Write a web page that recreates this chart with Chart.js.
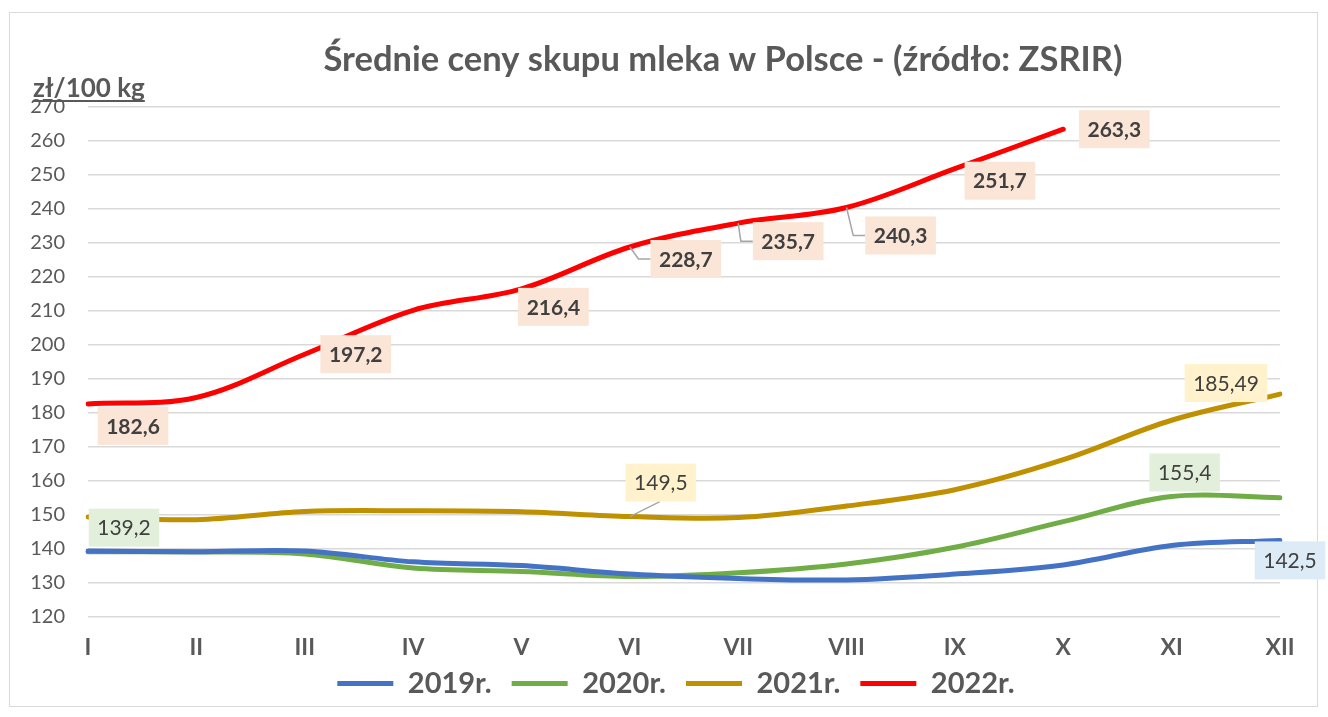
<!DOCTYPE html>
<html>
<head>
<meta charset="utf-8">
<script src="https://cdn.jsdelivr.net/npm/chart.js@4.4.1/dist/chart.umd.min.js"></script>
<style>
body { margin: 0; background: #fff; }
#wrap { width: 1328px; height: 717px; position: relative; }
</style>
</head>
<body>
<div id="wrap"><canvas id="mycanvas"></canvas></div>
<script>
var months = ['I', 'II', 'III', 'IV', 'V', 'VI', 'VII', 'VIII', 'IX', 'X', 'XI', 'XII'];
var years = ['2019r.', '2020r.', '2021r.', '2022r.'];
var y2019 = [139.4, 139.2, 139.4, 136.2, 135.1, 132.6, 131.3, 130.9, 132.6, 135.3, 141.0, 142.5];
var y2020 = [139.2, 139.1, 138.5, 134.4, 133.4, 131.9, 133.0, 135.6, 140.5, 148.0, 155.4, 155.0];
var y2021 = [149.4, 148.6, 151.0, 151.2, 150.9, 149.5, 149.2, 152.6, 157.4, 166.2, 177.8, 185.49];
var y2022 = [182.6, 184.5, 197.2, 210.1, 216.4, 228.7, 235.7, 240.3, 251.7, 263.3, null, null];
var yTicks = [120, 130, 140, 150, 160, 170, 180, 190, 200, 210, 220, 230, 240, 250, 260, 270];

var colors = ['#4472C4', '#70AD47', '#BF9000', '#FF0000'];
var textGrey = '#595959';

// which points get a value box, and where the box sits relative to the point
var labelSpecs = [
	{ ds: 3, i: 0, dx: 45, dy: 22, bold: true, bg: '#FBE5D6' },
	{ ds: 3, i: 2, dx: 51, dy: 0, bold: true, bg: '#FBE5D6' },
	{ ds: 3, i: 4, dx: 32, dy: 18, bold: true, bg: '#FBE5D6' },
	{ ds: 3, i: 5, dx: 56, dy: 12, bold: true, bg: '#FBE5D6', leader: 'elbow' },
	{ ds: 3, i: 6, dx: 50, dy: 18, bold: true, bg: '#FBE5D6', leader: 'elbow' },
	{ ds: 3, i: 7, dx: 54, dy: 28, bold: true, bg: '#FBE5D6', leader: 'elbow' },
	{ ds: 3, i: 8, dx: 45, dy: 12, bold: true, bg: '#FBE5D6' },
	{ ds: 3, i: 9, dx: 51, dy: 0, bold: true, bg: '#FBE5D6' },
	{ ds: 1, i: 0, dx: 36, dy: -24, bold: false, bg: '#E2EFDA' },
	{ ds: 1, i: 10, dx: 13, dy: -24, bold: false, bg: '#E2EFDA' },
	{ ds: 2, i: 5, dx: 31, dy: -34, bold: false, bg: '#FFF2CC', leader: 'bottom' },
	{ ds: 2, i: 11, dx: -54, dy: -11, bold: false, bg: '#FFF2CC' },
	{ ds: 0, i: 11, dx: 10, dy: 20, bold: false, bg: '#DDEBF7' }
];

var valueLabels = {
	id: 'valueLabels',
	afterDatasetsDraw: function(chart) {
		var ctx = chart.ctx;
		ctx.save();
		labelSpecs.forEach(function(s) {
			var pt = chart.getDatasetMeta(s.ds).data[s.i];
			var val = chart.data.datasets[s.ds].data[s.i];
			var txt = String(val).replace('.', ',');
			ctx.font = (s.bold ? 'bold ' : '') + '21px Lato';
			var w = ctx.measureText(txt).width + 17;
			var h = 38;
			var cx = pt.x + s.dx, cy = pt.y + s.dy;
			var left = cx - w / 2, top = cy - h / 2;
			if (s.leader) {
				ctx.strokeStyle = '#A6A6A6';
				ctx.lineWidth = 1.5;
				ctx.beginPath();
				ctx.moveTo(pt.x, pt.y);
				if (s.leader == 'elbow') {
					ctx.lineTo(left - 12, cy);
					ctx.lineTo(left, cy);
				} else {
					ctx.lineTo(pt.x + 30, top + h);
				}
				ctx.stroke();
			}
			ctx.fillStyle = s.bg;
			ctx.fillRect(left, top, w, h);
			ctx.fillStyle = '#404040';
			ctx.textAlign = 'center';
			ctx.textBaseline = 'middle';
			ctx.fillText(txt, cx, cy + 1);
		});
		ctx.restore();
	}
};

var frame = {
	id: 'frame',
	afterLayout: function(chart) {
		// Excel puts title and legend slightly right of centre; legend sits a bit higher
		chart.titleBlock.left += 68;
		chart.titleBlock.right += 68;
		chart.legend.left += 21;
		chart.legend.right += 21;
		chart.legend.top -= 9;
		chart.legend.bottom -= 9;
	},
	beforeDraw: function(chart) {
		var ctx = chart.ctx;
		ctx.save();
		ctx.fillStyle = '#fff';
		ctx.fillRect(0, 0, chart.width, chart.height);
		ctx.strokeStyle = '#D9D9D9';
		ctx.lineWidth = 1;
		ctx.strokeRect(9.5, 12.5, 1308, 694);
		ctx.restore();
	},
	afterDraw: function(chart) {
		// unit caption above the y axis
		var ctx = chart.ctx;
		ctx.save();
		ctx.font = 'bold 26px Lato';
		ctx.fillStyle = textGrey;
		ctx.textBaseline = 'alphabetic';
		ctx.fillText('zł/100 kg', 33, 97);
		var tw = ctx.measureText('zł/100 kg').width;
		ctx.fillRect(33, 100, tw, 2);
		ctx.restore();
	}
};

var ctx = document.getElementById('mycanvas');

var lineChart = new Chart(ctx, {
	type: 'line',
	data: {
		labels: months,
		datasets: [y2019, y2020, y2021, y2022].map(function(d, k) {
			return {
				label: years[k],
				data: d,
				borderColor: colors[k],
				backgroundColor: colors[k],
				borderWidth: 5,
				borderCapStyle: 'round',
				pointRadius: 0,
				tension: 0.35,
				fill: false
			};
		})
	},
	options: {
		responsive: true,
		maintainAspectRatio: false,
		animation: false,
		layout: { padding: { left: 30, right: 48, top: 0, bottom: 0 } },
		plugins: {
			title: {
				display: true,
				text: 'Średnie ceny skupu mleka w Polsce - (źródło: ZSRIR)',
				color: textGrey,
				font: { family: 'Lato', size: 34.5, weight: 'bold' },
				padding: { top: 39, bottom: 26 }
			},
			legend: {
				position: 'bottom',
				labels: {
					usePointStyle: true,
					pointStyle: 'line',
					pointStyleWidth: 56,
					color: textGrey,
					font: { family: 'Lato', size: 29, weight: 'bold' },
					padding: 20
				}
			},
			tooltip: { enabled: false }
		},
		scales: {
			x: {
				afterFit: function(scale) { scale.height = 41; },
				grid: { display: false, drawTicks: false },
				border: { display: false },
				ticks: { color: textGrey, padding: 17, font: { family: 'Lato', size: 23, weight: 'bold' } }
			},
			y: {
				min: 120,
				max: 270,
				afterBuildTicks: function(scale) {
					scale.ticks = yTicks.map(function(v) { return { value: v }; });
				},
				afterFit: function(scale) { scale.width = 58; },
				grid: { color: '#D9D9D9', lineWidth: 1.5, drawTicks: false },
				border: { display: false },
				ticks: { color: textGrey, padding: 23, font: { family: 'Lato', size: 20 } }
			}
		}
	},
	plugins: [frame, valueLabels]
});
</script>
</body>
</html>
